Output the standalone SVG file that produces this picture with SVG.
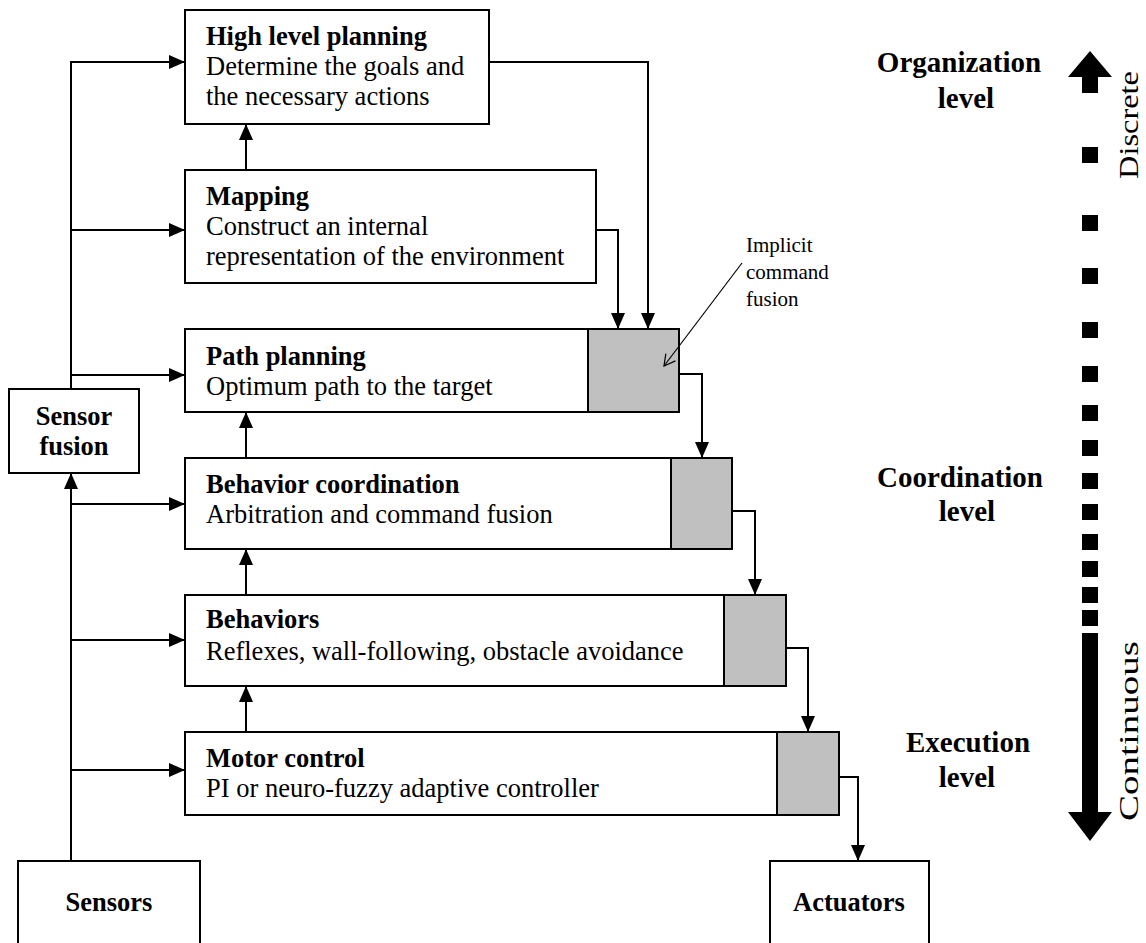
<svg xmlns="http://www.w3.org/2000/svg" width="1146" height="943" viewBox="0 0 1146 943">
<style>
.box{fill:#fff;stroke:#000;stroke-width:2}
.gray{fill:#c0c0c0;stroke:#000;stroke-width:2}
.t{font-family:"Liberation Serif","Times New Roman",serif;font-size:26.5px;fill:#000}
.b{font-weight:bold}
.lvl{font-family:"Liberation Serif","Times New Roman",serif;font-size:29px;font-weight:bold;text-anchor:middle;fill:#000}
.c{fill:none;stroke:#000;stroke-width:2}
.side{font-family:"Liberation Serif","Times New Roman",serif;font-size:28px;text-anchor:middle;fill:#000}
</style>
<defs>
<marker id="ah" markerUnits="userSpaceOnUse" markerWidth="16" markerHeight="14" refX="16" refY="7" orient="auto">
<path d="M0,0 L16,7 L0,14 z" fill="#000"/>
</marker>
<marker id="open" markerUnits="userSpaceOnUse" markerWidth="14" markerHeight="14" refX="12" refY="7" orient="auto">
<path d="M1,1 L12,7 L1,13" fill="none" stroke="#000" stroke-width="1.2"/>
</marker>
</defs>
<rect width="1146" height="943" fill="#fff"/>
<g id="high-level-planning">
<rect class="box" x="185" y="10" width="304" height="114"/>
<text class="t b" x="206" y="45">High level planning</text>
<text class="t" x="206" y="75">Determine the goals and</text>
<text class="t" x="206" y="105">the necessary actions</text>
</g>
<g id="mapping">
<rect class="box" x="185" y="170" width="411" height="113"/>
<text class="t b" x="206" y="205">Mapping</text>
<text class="t" x="206" y="235">Construct an internal</text>
<text class="t" x="206" y="265">representation of the environment</text>
</g>
<g id="path-planning">
<rect class="box" x="185" y="329" width="494" height="83"/>
<rect class="gray" x="588" y="329" width="91" height="83"/>
<text class="t b" x="206" y="365">Path planning</text>
<text class="t" x="206" y="395">Optimum path to the target</text>
</g>
<g id="behavior-coordination">
<rect class="box" x="185" y="458" width="547" height="91"/>
<rect class="gray" x="671" y="458" width="61" height="91"/>
<text class="t b" x="206" y="493">Behavior coordination</text>
<text class="t" x="206" y="523">Arbitration and command fusion</text>
</g>
<g id="behaviors">
<rect class="box" x="185" y="595" width="601" height="91"/>
<rect class="gray" x="724" y="595" width="62" height="91"/>
<text class="t b" x="206" y="628">Behaviors</text>
<text class="t" x="206" y="660">Reflexes, wall-following, obstacle avoidance</text>
</g>
<g id="motor-control">
<rect class="box" x="185" y="732" width="654" height="83"/>
<rect class="gray" x="777" y="732" width="62" height="83"/>
<text class="t b" x="206" y="767">Motor control</text>
<text class="t" x="206" y="797">PI or neuro-fuzzy adaptive controller</text>
</g>
<g id="sensor-fusion">
<rect class="box" x="9" y="389" width="130" height="84"/>
<text class="t b" x="74" y="425" text-anchor="middle">Sensor</text>
<text class="t b" x="74" y="455" text-anchor="middle">fusion</text>
</g>
<g id="sensors">
<rect class="box" x="18" y="861" width="182" height="95"/>
<text class="t b" x="109" y="911" text-anchor="middle">Sensors</text>
</g>
<g id="actuators">
<rect class="box" x="770" y="861" width="159" height="95"/>
<text class="t b" x="849" y="911" text-anchor="middle">Actuators</text>
</g>
<g id="implicit-label">
<text class="t" style="font-size:21px" x="746" y="252">Implicit</text>
<text class="t" style="font-size:21px" x="746" y="279">command</text>
<text class="t" style="font-size:21px" x="746" y="306">fusion</text>
</g>
<g id="connectors">
<path class="c" d="M71,389 V62 H185" marker-end="url(#ah)"/>
<path class="c" d="M71,230 H185" marker-end="url(#ah)"/>
<path class="c" d="M71,375 H185" marker-end="url(#ah)"/>
<path class="c" d="M71,861 V473" marker-end="url(#ah)"/>
<path class="c" d="M71,504 H185" marker-end="url(#ah)"/>
<path class="c" d="M71,640 H185" marker-end="url(#ah)"/>
<path class="c" d="M71,770 H185" marker-end="url(#ah)"/>
<path class="c" d="M246,170 V124" marker-end="url(#ah)"/>
<path class="c" d="M246,458 V412" marker-end="url(#ah)"/>
<path class="c" d="M246,595 V549" marker-end="url(#ah)"/>
<path class="c" d="M246,732 V686" marker-end="url(#ah)"/>
<path class="c" d="M489,62 H648 V329" marker-end="url(#ah)"/>
<path class="c" d="M596,230 H618 V329" marker-end="url(#ah)"/>
<path class="c" d="M679,374 H702 V458" marker-end="url(#ah)"/>
<path class="c" d="M732,511 H755 V595" marker-end="url(#ah)"/>
<path class="c" d="M786,648 H808 V732" marker-end="url(#ah)"/>
<path class="c" d="M839,777 H858 V861" marker-end="url(#ah)"/>
<path d="M742,263 L664,366" fill="none" stroke="#000" stroke-width="1.2" marker-end="url(#open)"/>
</g>
<g id="levels">
<text class="lvl" x="959" y="72">Organization</text>
<text class="lvl" x="966" y="108">level</text>
<text class="lvl" x="960" y="487">Coordination</text>
<text class="lvl" x="967" y="521">level</text>
<text class="lvl" x="968" y="752">Execution</text>
<text class="lvl" x="967" y="787">level</text>
</g>
<g id="scale">
<polygon points="1090,51 1112,77 1098,77 1098,93 1082,93 1082,77 1068,77" fill="#000"/>
<g fill="#000">
<rect x="1082" y="147" width="16" height="16"/>
<rect x="1082" y="215" width="16" height="16"/>
<rect x="1082" y="268" width="16" height="16"/>
<rect x="1082" y="322" width="16" height="16"/>
<rect x="1082" y="366" width="16" height="16"/>
<rect x="1082" y="405" width="16" height="16"/>
<rect x="1082" y="440" width="16" height="16"/>
<rect x="1082" y="473" width="16" height="16"/>
<rect x="1082" y="504" width="16" height="16"/>
<rect x="1082" y="534" width="16" height="16"/>
<rect x="1082" y="561" width="16" height="16"/>
<rect x="1082" y="587" width="16" height="16"/>
<rect x="1082" y="610" width="16" height="16"/>
</g>
<polygon points="1082,633 1098,633 1098,812 1112,812 1090,841 1068,812 1082,812" fill="#000"/>
<text class="side" transform="translate(1138,125) rotate(-90)" textLength="108" lengthAdjust="spacingAndGlyphs">Discrete</text>
<text class="side" transform="translate(1138,731) rotate(-90)" textLength="180" lengthAdjust="spacingAndGlyphs">Continuous</text>
</g>
</svg>
